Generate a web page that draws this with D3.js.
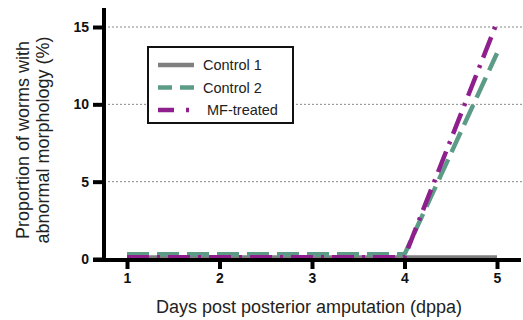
<!DOCTYPE html>
<html><head><meta charset="utf-8">
<script src="https://cdn.jsdelivr.net/npm/d3@7"></script>
<style>body{margin:0;background:#fff}svg{display:block;font-family:"Liberation Sans",Arial,sans-serif}</style>
</head><body><svg id="c" width="523" height="320"></svg>
<script>
const days = [1, 2, 3, 4, 5];
const control1 = [0.1, 0.1, 0.1, 0.1, 0.1];
const control2 = [0.3, 0.3, 0.3, 0.3, 13.3];
const mfTreated = [0.12, 0.12, 0.12, 0.12, 15.3];
const seriesNames = ["Control 1", "Control 2", " MF-treated"];
const yTicks = [0, 5, 10, 15];
const xLabel = "Days post posterior amputation (dppa)";
const yLabel = ["Proportion of worms with", "abnormal morphology (%)"];

const svg = d3.select("#c");
const x = d3.scaleLinear().domain([1, 5]).range([127, 497]);
const y = d3.scaleLinear().domain([0, 15]).range([259, 27]);

// grid
svg.append("g").selectAll("line").data(yTicks.filter(d => d > 0)).join("line")
  .attr("x1", 104).attr("x2", 523).attr("y1", d => y(d)).attr("y2", d => y(d))
  .attr("stroke", "#888").attr("stroke-width", 1).attr("stroke-dasharray", "2,2");

const series = [
  {name: seriesNames[0], values: control1, color: "#7f7f7f", dash: null, ldash: null},
  {name: seriesNames[1], values: control2, color: "#5c9c87", dash: "22,8", ldash: "14,8"},
  {name: seriesNames[2], values: mfTreated, color: "#8e1f8c", dash: "22,8,3,8", ldash: "16,12,3,12"}
];
const line = d3.line().x((d, i) => x(days[i])).y(d => y(d));

// axes
const yAxis = d3.axisLeft(y).tickValues(yTicks).tickSize(11).tickPadding(4).tickFormat(d3.format("d"));
const gy = svg.append("g").attr("transform", "translate(104,0)").call(yAxis);
gy.select(".domain").remove();
gy.append("line").attr("x1", 0).attr("x2", 0).attr("y1", 8).attr("y2", 262).attr("stroke", "#000").attr("stroke-width", 4);
gy.selectAll(".tick line").attr("stroke", "#000").attr("stroke-width", 4);
gy.selectAll(".tick text").attr("font-size", 14).attr("font-weight", "bold").attr("fill", "#111").attr("font-family", "Liberation Sans, Arial");

const xAxis = d3.axisBottom(x).tickValues(days).tickSize(9).tickPadding(4).tickFormat(d3.format("d"));
const gx = svg.append("g").attr("transform", "translate(0,260)").call(xAxis);
gx.select(".domain").remove();
gx.selectAll(".tick line").attr("stroke", "#000").attr("stroke-width", 4);
gx.selectAll(".tick text").attr("font-size", 14).attr("font-weight", "bold").attr("fill", "#111").attr("font-family", "Liberation Sans, Arial");

// series lines
const sg = svg.append("g");
series.forEach(s => {
  sg.append("path").datum(s.values).attr("d", line).attr("fill", "none")
    .attr("stroke", s.color).attr("stroke-width", 4.5)
    .attr("stroke-dasharray", s.dash).attr("stroke-linecap", "butt");
});
svg.append("line").attr("x1", 93).attr("x2", 521).attr("y1", 260).attr("y2", 260)
  .attr("stroke", "#000").attr("stroke-width", 4);

// labels
svg.append("text").attr("x", 309).attr("y", 313).attr("text-anchor", "middle")
  .attr("font-size", 18).attr("fill", "#222").text(xLabel);
const yl = svg.append("text").attr("transform", "translate(29,140) rotate(-90)")
  .attr("text-anchor", "middle").attr("font-size", 18).attr("fill", "#222");
yl.append("tspan").attr("x", 0).attr("dy", 0).text(yLabel[0]);
yl.append("tspan").attr("x", 0).attr("dy", 20).text(yLabel[1]);

// legend
const lg = svg.append("g");
lg.append("rect").attr("x", 148).attr("y", 47).attr("width", 145).attr("height", 76)
  .attr("fill", "#fff").attr("stroke", "#111").attr("stroke-width", 2);
const legendY = d3.scalePoint().domain(seriesNames).range([65, 110]);
series.forEach(s => {
  lg.append("line").attr("x1", 158).attr("x2", 194).attr("y1", legendY(s.name)).attr("y2", legendY(s.name))
    .attr("stroke", s.color).attr("stroke-width", 4.5).attr("stroke-dasharray", s.ldash);
  lg.append("text").attr("x", 203).attr("y", legendY(s.name) + 5).attr("font-size", 14.5)
    .attr("fill", "#222").attr("xml:space", "preserve").style("white-space", "pre").text(s.name);
});
</script></body></html>
